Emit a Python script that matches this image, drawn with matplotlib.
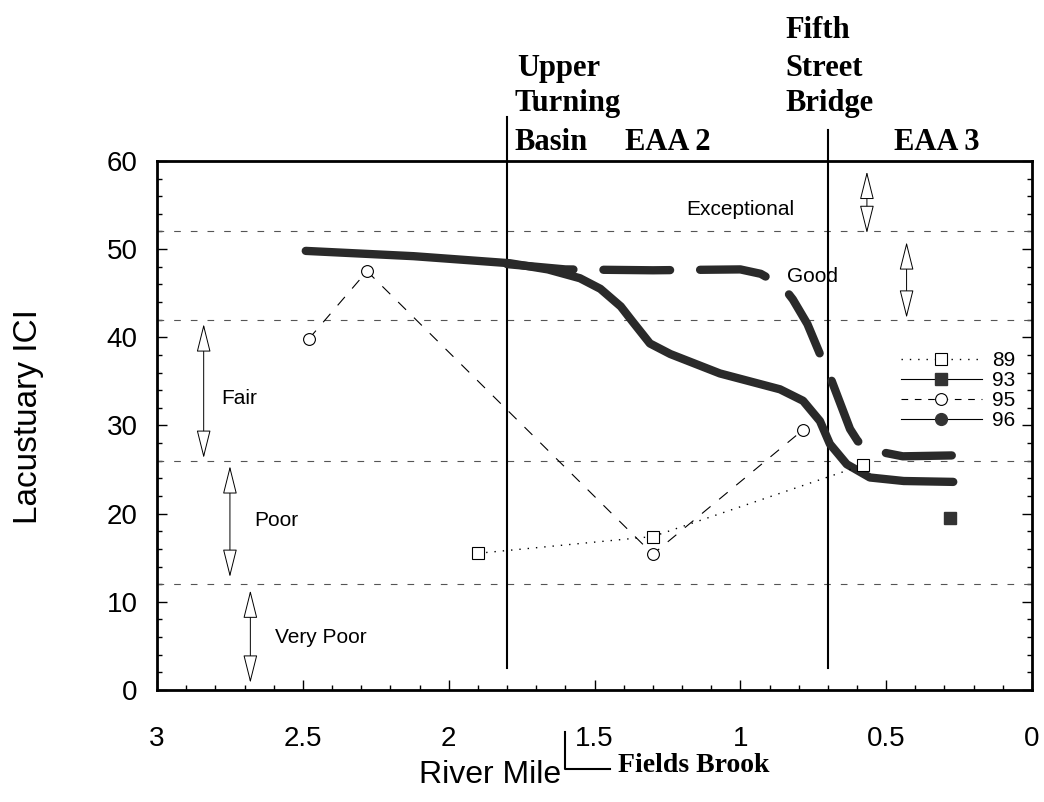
import numpy as np
import matplotlib
matplotlib.use('Agg')
import matplotlib.pyplot as plt
from matplotlib.lines import Line2D
from matplotlib.ticker import MultipleLocator, FuncFormatter

# ---- data ----
x89 = [1.90, 1.30, 0.58]
y89 = [15.5, 17.4, 25.5]

x93 = [0.28]
y93 = [19.5]

x95 = [2.48, 2.28, 1.30, 0.785]
y95 = [39.8, 47.5, 15.4, 29.5]

# thick hand-drawn trend lines
solid_x = [2.49, 2.12, 1.79, 1.66, 1.55, 1.48, 1.41, 1.37, 1.31, 1.24, 1.07,
           0.864, 0.785, 0.727, 0.693, 0.635, 0.556, 0.44, 0.27]
solid_y = [49.8, 49.2, 48.4, 47.7, 46.7, 45.5, 43.5, 41.8, 39.3, 38.1, 35.9,
           34.1, 32.8, 30.5, 27.9, 25.6, 24.1, 23.7, 23.6]
dash_x = [1.80, 1.60, 1.30, 1.00, 0.93, 0.855, 0.82, 0.77, 0.727, 0.70,
          0.624, 0.597, 0.52, 0.443, 0.275]
dash_y = [48.3, 47.7, 47.6, 47.7, 47.2, 45.8, 44.3, 41.5, 38.1, 36.2,
          29.6, 28.2, 27.0, 26.5, 26.6]

# class boundaries and labels
bounds = [52, 42, 26, 12]
class_names = ['Exceptional', 'Good', 'Fair', 'Poor', 'Very Poor']
class_pos = [(1.0, 54.5, 'center'), (0.84, 46.9, 'left'), (2.78, 33.1, 'left'),
             (2.665, 19.2, 'left'), (2.595, 6.0, 'left')]
arrow_x = [0.566, 0.43, 2.84, 2.75, 2.68]
arrow_y = [(58.8, 51.8), (50.8, 42.2), (41.5, 26.3), (25.4, 12.8), (11.3, 0.8)]

# landmarks (river mile)
landmarks = [1.8, 0.7]
landmark_top = [65.0, 63.5]
fields_brook = 1.6

fig = plt.figure(figsize=(10.44, 8.02), dpi=100)
ax = fig.add_axes([0.1504, 0.1397, 0.8381, 0.6596])

ax.set_xlim(3, 0)
ax.set_ylim(0, 60)

# class boundary lines
for b in bounds:
    ax.axhline(b, color='#555555', lw=0.8, dashes=(6, 9))

# landmark vertical lines
for lx, top in zip(landmarks, landmark_top):
    ax.plot([lx, lx], [2.5, top], color='black', lw=1.5, clip_on=False)

# thick trend lines
ax.plot(solid_x, solid_y, color='#2a2a2a', lw=6, solid_capstyle='round',
        solid_joinstyle='round')
ax.plot(dash_x, dash_y, color='#2a2a2a', lw=6, dashes=(8, 3.6),
        dash_capstyle='round')

# data series
ax.plot(x89, y89, color='black', lw=1, dashes=(1, 5), marker='s', ms=9,
        mfc='white', mec='black', mew=0.8)
ax.plot(x93, y93, color='black', lw=1, marker='s', ms=8.5, mfc='#333333',
        mec='#333333', ls='none')
ax.plot(x95, y95, color='black', lw=0.8, dashes=(10, 10), marker='o', ms=8.5,
        mfc='white', mec='black', mew=0.8)

# class labels and double arrows
for name, (tx, ty, ha) in zip(class_names, class_pos):
    ax.text(tx, ty, name, fontsize=15, ha=ha, va='center',
            family='Liberation Sans')
for ax_x, (ya, yb) in zip(arrow_x, arrow_y):
    ax.annotate('', xy=(ax_x, yb), xytext=(ax_x, ya),
                arrowprops=dict(arrowstyle='<|-|>,head_length=1.8,head_width=0.45',
                                fc='white', ec='black', lw=0.7,
                                shrinkA=0, shrinkB=0))

# legend
handles = [
    Line2D([], [], color='black', lw=1, dashes=(1, 5), marker='s', ms=9,
           mfc='white', mec='black', mew=0.8),
    Line2D([], [], color='black', lw=0.8, marker='s', ms=8.5, mfc='#333333',
           mec='#333333'),
    Line2D([], [], color='black', lw=0.8, dashes=(6, 6), marker='o', ms=8.5,
           mfc='white', mec='black', mew=0.8),
    Line2D([], [], color='black', lw=0.8, marker='o', ms=8.5, mfc='#333333',
           mec='#333333'),
]
leg = ax.legend(handles, ['89', '93', '95', '96'], loc='upper left',
                bbox_to_anchor=(0.838, 0.66), frameon=False, borderpad=0,
                handlelength=3.9, handletextpad=0.5, labelspacing=0.05,
                prop={'family': 'Liberation Sans', 'size': 15})

# axes styling
for s in ax.spines.values():
    s.set_linewidth(2)
ax.xaxis.set_major_locator(MultipleLocator(0.5))
ax.xaxis.set_minor_locator(MultipleLocator(0.1))
ax.yaxis.set_major_locator(MultipleLocator(10))
ax.yaxis.set_minor_locator(MultipleLocator(2))
ax.xaxis.set_major_formatter(FuncFormatter(lambda v, p: f'{v:g}'))
ax.tick_params(which='both', direction='in', left=True, right=True,
               bottom=True, top=False, width=1)
ax.tick_params(which='major', length=7)
ax.tick_params(which='minor', length=3.5)
ax.tick_params(axis='x', which='major', pad=26, labelsize=20)
ax.tick_params(axis='y', which='major', pad=14, labelsize=20)
for lab in ax.get_xticklabels() + ax.get_yticklabels():
    lab.set_family('Liberation Sans')

# axis titles
fig.text(0.027, 0.480, 'Lacustuary ICI', rotation=90, ha='center', va='center',
         fontsize=24, family='Liberation Sans')
fig.text(0.469, 0.034, 'River Mile', ha='center', va='center', fontsize=23,
         family='Liberation Sans')
fig.text(0.592, 0.046, 'Fields Brook', ha='left', va='center', fontsize=20,
         family='Liberation Serif', weight='bold')

# Fields Brook confluence marker
ax.plot([fields_brook, fields_brook, 1.447], [-4.75, -9.0, -9.0], color='black',
        lw=1.5, clip_on=False)

# landmark names above the plot
serif = dict(family='Liberation Serif', weight='bold', fontsize=22, va='baseline')
fig.text(0.495, 1 - 76 / 802, 'Upper', ha='left', **serif)
fig.text(0.493, 1 - 111 / 802, 'Turning', ha='left', **serif)
fig.text(0.493, 1 - 150 / 802, 'Basin', ha='left', **serif)
fig.text(0.599, 1 - 150 / 802, 'EAA 2', ha='left', **serif)
fig.text(0.752, 1 - 38 / 802, 'Fifth', ha='left', **serif)
fig.text(0.752, 1 - 76 / 802, 'Street', ha='left', **serif)
fig.text(0.752, 1 - 111 / 802, 'Bridge', ha='left', **serif)
fig.text(0.897, 1 - 150 / 802, 'EAA 3', ha='center', **serif)

fig.savefig('out.png', dpi=100)
